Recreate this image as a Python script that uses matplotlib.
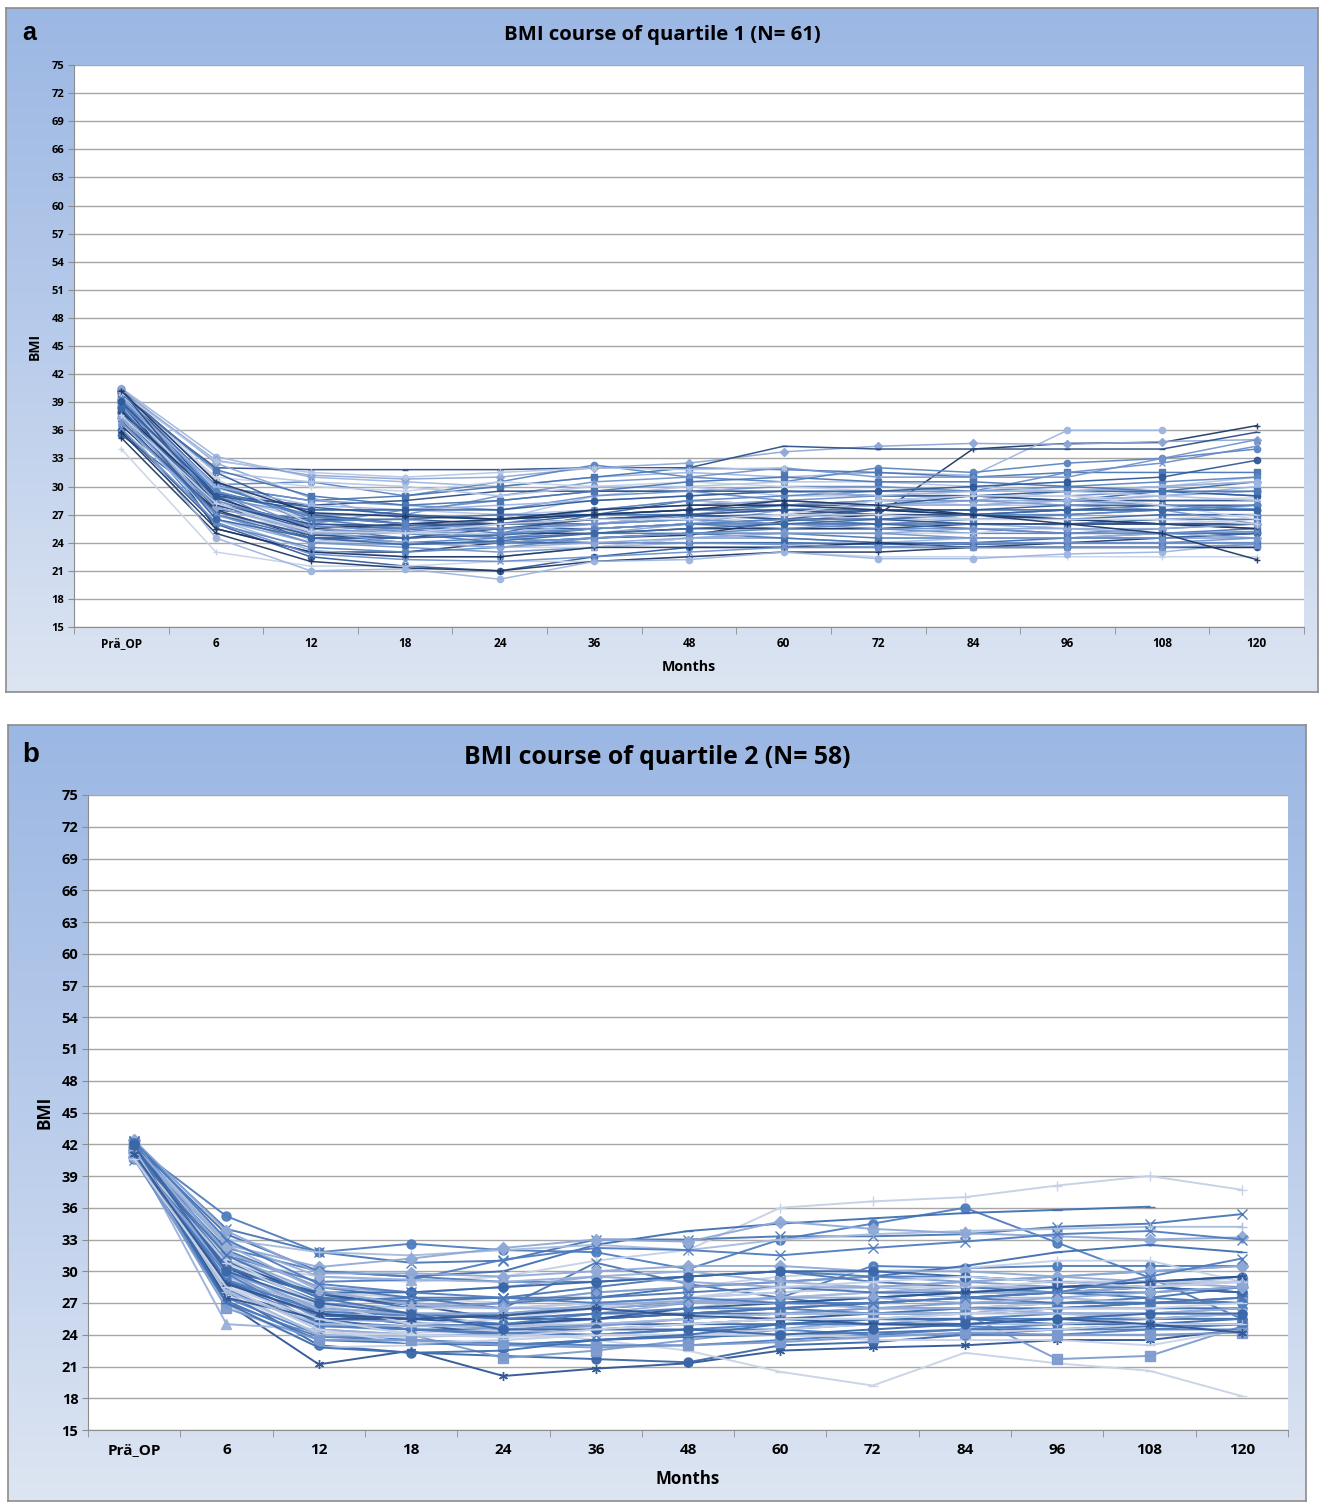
import numpy as np
import matplotlib
matplotlib.use("Agg")
import matplotlib.pyplot as plt
from matplotlib.colors import LinearSegmentedColormap

nan = np.nan

# x categories (months after surgery) and y ticks
months = ["Prä_OP", "6", "12", "18", "24", "36", "48", "60", "72", "84", "96", "108", "120"]
bmi_ticks = list(range(15, 76, 3))

# quartile 1 patients (BMI at each time point)
a01 = [39.8, 25.5, 23.0, 23.0, 24.0, 24.5, 24.8, 26.3, 27.0, 34.0, 34.6, 34.7, 36.5]
a02 = [40.5, 33.2, 31.0, 30.5, 30.0, 31.0, 31.5, 31.0, 31.5, 31.2, 36.0, 36.0, nan]
a03 = [40.2, 32.8, 31.2, 30.8, 31.0, 32.0, 32.5, 33.7, 34.3, 34.6, 34.5, 34.8, 35.0]
a04 = [39.5, 32.0, 31.8, 31.8, 31.8, 32.0, 32.0, 34.3, 34.0, 34.0, 34.0, 34.0, 35.8]
a05 = [38.5, 30.2, 30.5, 29.0, 30.5, 32.3, 31.0, 30.5, 32.0, 31.5, 32.5, 33.0, 34.0]
a06 = [40.0, 30.0, 28.5, 29.0, 30.0, 31.0, 32.0, 31.8, 31.5, 31.0, 31.5, 31.5, 31.5]
a07 = [38.0, 29.5, 27.0, 27.0, 29.0, 30.5, 31.0, 32.0, 31.0, 31.0, 31.0, 33.0, 35.0]
a08 = [36.5, 28.0, 26.0, 27.5, 28.5, 29.5, 29.5, 30.0, 30.0, 29.5, 31.5, 32.5, 34.3]
a09 = [37.5, 29.0, 26.5, 25.5, 26.5, 29.0, 30.0, 29.0, 29.0, 29.5, 29.5, 30.0, 31.0]
a10 = [35.5, 28.0, 25.5, 24.5, 25.0, 27.0, 28.5, 28.0, 28.5, 29.0, 28.5, 29.5, 30.5]
a11 = [36.0, 26.0, 22.5, 21.5, 21.0, 22.5, 23.5, 23.5, 23.5, 23.5, 23.5, 23.5, 23.5]
a12 = [34.0, 23.0, 21.5, 21.5, 22.0, 22.0, 22.5, 23.0, 22.5, 22.5, 22.5, 22.5, 22.5]
a13 = [35.2, 25.0, 22.0, 21.3, 21.0, 22.0, 22.5, 23.0, 23.0, 23.5, 24.0, 24.5, 25.0]
a14 = [37.0, 24.5, 21.0, 21.2, 20.1, 22.0, 22.2, 23.0, 22.3, 22.3, 22.8, 23.0, 24.0]
a15 = [39.0, 26.5, 24.0, 25.5, 24.5, 25.0, 26.0, 27.5, 28.0, 28.5, 29.5, 30.0, 30.5]
a16 = [38.8, 27.5, 26.5, 26.5, 26.0, 26.0, 26.5, 27.0, 27.5, 27.0, 27.5, 28.0, 27.5]
a17 = [39.5, 29.5, 24.5, 24.0, 24.5, 25.5, 26.0, 25.5, 25.5, 25.0, 25.0, 25.5, 26.0]
a18 = [40.3, 30.5, 26.0, 25.0, 24.0, 24.5, 25.0, 25.0, 24.5, 24.5, 24.5, 25.0, 25.5]
a19 = [38.0, 27.0, 24.0, 23.5, 23.0, 23.5, 24.5, 24.5, 24.0, 24.0, 24.0, 24.0, 24.5]
a20 = [37.2, 28.5, 25.0, 25.0, 26.0, 27.5, 28.0, 28.5, 29.0, 29.0, 29.0, 29.5, 29.0]
a21 = [39.0, 29.8, 27.5, 27.5, 27.0, 27.5, 28.5, 28.0, 28.5, 28.0, 28.0, 28.5, 28.5]
a22 = [40.0, 30.0, 26.8, 26.0, 26.0, 26.5, 26.8, 27.0, 27.0, 26.5, 26.5, 27.0, 27.0]
a23 = [38.5, 28.0, 25.8, 25.5, 25.5, 25.5, 26.0, 26.5, 27.5, 27.5, 28.0, 28.0, 28.0]
a24 = [39.8, 31.0, 30.0, 29.5, 30.5, 30.0, 30.5, 30.0, 29.5, 29.0, 29.0, 28.5, 28.8]
a25 = [36.5, 27.5, 24.5, 24.5, 25.0, 25.0, 25.5, 25.5, 25.5, 26.0, 26.0, 26.0, 26.0]
a26 = [37.8, 26.5, 23.2, 22.5, 22.5, 23.5, 24.0, 24.0, 24.0, 24.5, 24.5, 25.0, 25.0]
a27 = [39.2, 27.8, 25.0, 25.5, 26.0, 26.5, 27.0, 27.5, 28.0, 28.5, 28.5, 29.0, 29.5]
a28 = [40.5, 29.0, 28.0, 28.5, 29.5, 29.5, 29.5, 29.5, 29.0, 29.0, 28.5, 28.5, 28.5]
a29 = [37.5, 26.0, 23.5, 23.0, 23.5, 24.5, 25.0, 25.5, 26.0, 26.5, 27.0, 27.5, 28.0]
a30 = [38.2, 28.3, 26.0, 25.5, 24.5, 25.0, 25.0, 24.5, 24.0, 23.8, 24.0, 24.0, 24.0]
a31 = [40.0, 28.8, 27.0, 26.0, 25.5, 26.0, 27.0, 28.0, 28.5, 28.5, 28.0, 27.5, 26.0]
a32 = [39.6, 30.0, 28.5, 28.0, 27.5, 29.0, 29.5, 28.5, 28.0, 28.0, 28.5, 28.0, 27.6]
a33 = [36.8, 26.8, 25.5, 25.0, 25.5, 26.0, 26.5, 27.0, 26.5, 26.5, 26.5, 26.0, 26.5]
a34 = [38.0, 29.0, 25.0, 24.0, 24.0, 24.0, 24.0, 24.0, 23.8, 24.0, 24.5, 24.5, 25.0]
a35 = [40.2, 31.5, 27.0, 26.0, 26.0, 27.0, 27.5, 28.0, 28.0, 29.0, 29.5, 29.5, 29.0]
a36 = [39.0, 28.5, 24.2, 24.0, 23.5, 23.5, 24.5, 25.0, 25.0, 25.0, 26.0, 26.5, 27.0]
a37 = [35.8, 25.5, 23.0, 22.5, 22.5, 23.5, 23.5, 23.5, 24.0, 23.5, 23.5, 23.5, 23.5]
a38 = [38.6, 27.0, 25.0, 24.5, 25.0, 26.0, 27.0, 27.5, 28.0, 28.0, 28.5, 29.0, 30.0]
a39 = [40.4, 32.5, 28.8, 26.5, 25.5, 26.0, 26.5, 26.0, 26.0, 26.0, 25.5, 25.0, 24.5]
a40 = [37.0, 27.3, 24.8, 24.5, 25.5, 26.5, 27.0, 27.5, 27.0, 27.0, 26.5, 26.0, 25.5]
a41 = [39.3, 30.2, 26.5, 25.5, 26.5, 27.5, 28.5, 29.0, 29.5, 29.5, 30.0, 30.5, 31.0]
a42 = [38.3, 28.0, 26.3, 26.5, 27.0, 27.0, 27.0, 26.5, 26.0, 26.0, 26.0, 26.5, 26.5]
a43 = [40.0, 29.5, 25.5, 25.0, 24.5, 24.0, 24.0, 23.8, 23.5, 23.5, 23.5, 23.5, 23.8]
a44 = [36.2, 26.2, 22.8, 22.2, 22.0, 22.5, 23.0, 23.5, 23.5, 24.0, 24.0, 24.0, 24.0]
a45 = [39.7, 31.5, 30.5, 30.0, 29.0, 30.0, 30.0, 30.5, 30.5, 30.0, 29.5, 29.0, 28.5]
a46 = [37.8, 27.0, 24.5, 24.5, 24.8, 25.5, 26.0, 26.0, 26.0, 25.5, 25.0, 25.0, 25.0]
a47 = [38.9, 29.2, 27.8, 27.0, 26.5, 27.0, 27.5, 27.5, 27.5, 27.5, 27.5, 27.5, 27.5]
a48 = [40.1, 30.8, 26.0, 25.0, 25.0, 25.5, 26.0, 27.0, 28.5, 29.0, 29.0, 28.0, 26.5]
a49 = [38.0, 28.8, 25.5, 26.0, 26.5, 27.5, 28.0, 28.0, 27.5, 27.0, 26.5, 26.0, 25.5]
a50 = [39.5, 30.0, 28.0, 27.5, 28.0, 28.5, 29.0, 29.5, 29.0, 29.5, 29.5, 30.0, 30.5]
a51 = [37.3, 27.8, 25.2, 24.0, 23.5, 24.0, 24.5, 25.0, 25.0, 25.5, 25.5, 25.5, 26.0]
a52 = [40.3, 28.0, 26.0, 25.8, 26.0, 26.5, 27.0, 26.5, 26.5, 26.0, 26.0, 26.0, 26.0]
a53 = [38.7, 29.5, 26.8, 26.0, 25.0, 25.5, 26.0, 26.5, 26.5, 27.0, 27.0, 27.5, 28.0]
a54 = [39.9, 31.8, 29.0, 28.0, 28.5, 29.5, 30.5, 31.0, 30.5, 30.5, 30.0, 29.5, 29.5]
a55 = [36.9, 27.0, 24.0, 23.8, 24.0, 24.5, 25.0, 25.0, 25.0, 24.5, 24.5, 24.5, 24.5]
a56 = [39.4, 28.5, 25.8, 25.2, 25.5, 26.0, 26.5, 26.0, 25.5, 25.5, 25.0, 25.0, 25.2]
a57 = [40.0, 32.7, 31.5, 31.0, 31.5, 32.0, 31.8, 32.0, nan, nan, nan, nan, nan]
a58 = [38.4, 26.5, 24.5, 23.8, 24.2, 25.0, 25.5, 26.0, 26.5, 27.0, 27.5, 27.5, 27.5]
a59 = [39.1, 29.0, 27.5, 27.5, 27.5, 28.5, 29.0, 29.5, 29.5, 30.0, 30.5, 31.0, 32.8]
a60 = [37.6, 28.2, 25.2, 25.0, 26.0, 26.5, 26.5, 27.0, 27.0, 26.5, 26.5, 26.5, 26.0]
a61 = [40.2, 30.5, 27.2, 26.8, 26.5, 27.0, 27.5, 28.5, 28.0, 27.0, 26.0, 25.0, 22.2]

# quartile 2 patients
b01 = [41.8, 35.2, 31.8, 32.6, 32.0, 31.8, 30.2, 33.0, 34.5, 36.0, 32.7, 29.4, 25.5]
b02 = [41.0, 31.0, 29.5, 29.0, 29.5, 31.0, 32.0, 36.0, 36.6, 37.0, 38.1, 39.0, 37.7]
b03 = [42.0, 33.5, 30.0, 29.5, 30.0, 32.5, 33.8, 34.5, 35.0, 35.5, 35.8, 36.1, nan]
b04 = [42.2, 34.0, 31.8, 30.8, 31.0, 33.0, 33.0, 33.3, 33.3, 33.5, 34.2, 34.5, 35.4]
b05 = [41.8, 33.0, 31.8, 31.5, 32.0, 32.5, 32.0, 33.0, 33.5, 33.8, 34.0, 34.2, 34.2]
b06 = [41.5, 32.5, 30.4, 31.2, 32.2, 33.0, 32.8, 34.7, 34.0, 33.6, 33.3, 33.0, 33.2]
b07 = [42.3, 31.5, 29.0, 29.2, 31.1, 32.2, 32.0, 31.5, 32.2, 32.8, 33.5, 33.8, 33.0]
b08 = [41.0, 27.0, 21.2, 22.5, 20.1, 20.8, 21.3, 22.5, 22.8, 23.0, 23.5, 23.5, 24.5]
b09 = [41.5, 28.0, 23.0, 22.3, 22.0, 21.7, 21.4, 23.0, 23.3, 24.0, 24.5, 25.0, 25.5]
b10 = [40.8, 29.5, 26.0, 25.0, 24.5, 23.5, 22.5, 20.5, 19.2, 22.3, 21.3, 20.6, 18.2]
b11 = [41.0, 28.5, 24.5, 24.0, 21.8, 22.5, 23.5, 24.5, 25.5, 26.0, 21.7, 22.0, 24.8]
b12 = [41.2, 25.0, 24.5, 24.0, 24.0, 25.0, 25.5, 26.0, 26.5, 26.5, 26.0, 26.0, 26.0]
b13 = [42.0, 29.0, 26.5, 26.0, 26.0, 26.5, 27.0, 27.5, 30.5, 30.3, 30.5, 30.5, 30.5]
b14 = [42.0, 31.0, 28.0, 27.5, 27.0, 28.0, 28.5, 29.5, 30.0, 30.3, 31.0, 31.0, 29.0]
b15 = [41.0, 30.0, 28.0, 26.5, 27.0, 27.5, 28.5, 29.0, 29.5, 30.5, 31.8, 32.5, 31.8]
b16 = [41.5, 32.0, 28.5, 27.5, 26.5, 30.8, 28.8, 27.5, 26.5, 26.5, 27.0, 27.5, 28.5]
b17 = [42.5, 29.2, 26.8, 25.5, 25.0, 25.5, 26.0, 26.5, 27.0, 27.5, 28.0, 28.5, 29.5]
b18 = [41.3, 31.5, 28.0, 27.0, 26.5, 27.0, 27.5, 28.0, 28.5, 29.0, 29.5, 30.0, 30.5]
b19 = [40.8, 27.5, 24.0, 23.5, 23.0, 23.5, 24.0, 24.5, 25.0, 25.5, 26.0, 26.0, 26.5]
b20 = [41.6, 30.5, 26.0, 25.0, 24.0, 24.5, 25.0, 25.5, 26.0, 26.0, 26.5, 27.0, 27.0]
b21 = [42.0, 28.0, 25.5, 24.5, 24.5, 25.0, 25.0, 25.0, 25.5, 25.5, 25.0, 25.0, 25.0]
b22 = [41.0, 26.8, 22.8, 23.0, 23.5, 24.0, 24.5, 24.0, 23.5, 23.5, 23.5, 23.0, 24.5]
b23 = [41.7, 29.8, 27.0, 26.5, 27.0, 28.0, 28.5, 29.0, 29.5, 29.0, 28.5, 29.0, 29.0]
b24 = [41.4, 30.2, 26.2, 26.0, 25.5, 26.0, 27.0, 27.5, 28.0, 28.5, 28.5, 29.0, 29.5]
b25 = [40.9, 32.2, 30.0, 29.5, 29.0, 29.0, 29.5, 30.0, 29.5, 29.5, 29.0, 29.0, 29.5]
b26 = [42.1, 28.8, 25.0, 24.2, 24.5, 25.5, 26.0, 26.5, 26.0, 26.5, 27.0, 27.0, 27.5]
b27 = [41.2, 27.2, 23.5, 23.2, 23.0, 23.5, 23.8, 24.0, 24.2, 24.5, 24.5, 24.8, 25.0]
b28 = [41.9, 31.0, 27.5, 27.2, 27.5, 28.5, 29.5, 30.0, 29.0, 28.5, 28.0, 27.5, 27.0]
b29 = [41.1, 29.5, 26.5, 25.0, 24.8, 25.5, 26.5, 27.5, 28.0, 27.5, 27.5, 27.0, 27.0]
b30 = [42.4, 33.8, 29.8, 29.8, 29.5, 30.0, 30.5, 30.5, 30.0, 30.0, 29.5, 29.0, 28.5]
b31 = [41.6, 28.3, 24.8, 24.5, 24.0, 24.0, 24.5, 24.5, 24.0, 24.5, 25.0, 25.5, 26.0]
b32 = [40.7, 30.8, 27.8, 26.8, 25.5, 25.5, 26.0, 26.5, 27.0, 27.5, 28.0, 28.5, 28.0]
b33 = [41.8, 29.0, 25.8, 25.5, 26.0, 26.5, 27.0, 27.0, 27.5, 28.0, 28.0, 28.0, 28.5]
b34 = [41.3, 27.8, 24.2, 24.0, 23.8, 24.0, 24.0, 24.5, 25.0, 25.0, 25.5, 26.0, 26.0]
b35 = [42.0, 30.0, 25.5, 25.2, 24.5, 24.8, 25.5, 26.0, 26.5, 27.0, 27.0, 27.0, 27.5]
b36 = [41.5, 32.8, 29.5, 29.2, 29.0, 29.5, 30.0, 29.0, 28.5, 28.0, 28.0, 28.5, 29.0]
b37 = [40.6, 27.0, 23.8, 23.5, 23.2, 23.0, 23.0, 23.5, 24.0, 24.0, 24.0, 24.5, 24.5]
b38 = [41.9, 31.2, 26.8, 26.5, 26.5, 27.0, 27.5, 28.0, 28.5, 28.5, 29.0, 29.0, 29.0]
b39 = [41.2, 29.0, 25.2, 24.8, 25.0, 25.5, 26.0, 26.0, 26.0, 26.5, 26.5, 26.5, 26.5]
b40 = [42.2, 30.5, 27.2, 27.5, 27.5, 27.5, 28.0, 28.5, 28.0, 28.0, 28.5, 28.5, 28.0]
b41 = [41.0, 28.2, 24.0, 23.8, 24.0, 24.5, 25.0, 25.5, 25.5, 25.0, 25.0, 25.5, 25.5]
b42 = [41.7, 31.8, 28.5, 28.0, 28.5, 29.5, 29.0, 28.5, 28.5, 29.0, 29.5, 30.0, 30.5]
b43 = [40.5, 29.8, 25.0, 24.5, 24.2, 24.0, 24.5, 25.0, 25.0, 24.8, 24.5, 24.5, 25.0]
b44 = [41.4, 27.5, 25.5, 25.5, 25.0, 25.5, 26.5, 27.0, 27.5, 28.0, 28.5, 29.0, 29.5]
b45 = [42.1, 30.2, 28.0, 28.0, 28.5, 29.0, 29.5, 30.0, 30.0, 29.5, 29.0, 28.5, 28.0]
b46 = [41.3, 28.5, 24.5, 23.2, 23.5, 24.0, 24.0, 24.0, 23.8, 24.2, 24.5, 25.0, 25.0]
b47 = [40.9, 26.5, 23.5, 23.5, 23.0, 22.8, 23.0, 23.3, 23.8, 24.2, 24.0, 24.0, 24.2]
b48 = [41.8, 32.5, 28.2, 26.8, 26.5, 26.5, 27.0, 27.0, 26.5, 26.5, 26.0, 26.0, 26.5]
b49 = [41.6, 29.2, 26.2, 25.8, 25.0, 26.0, 26.5, 26.5, 26.0, 26.0, 26.5, 27.0, 27.0]
b50 = [41.0, 30.8, 27.0, 25.0, 25.5, 26.5, 27.5, 28.5, 29.0, 29.5, 29.0, 28.5, 29.0]
b51 = [42.0, 27.0, 22.8, 22.3, 22.5, 23.5, 24.0, 25.0, 25.5, 25.5, 25.5, 25.5, 25.5]
b52 = [41.2, 31.5, 27.5, 26.0, 25.5, 26.0, 26.0, 26.5, 27.0, 27.5, 27.0, 27.0, 27.5]
b53 = [41.5, 28.0, 25.0, 24.8, 24.8, 25.0, 25.5, 26.0, 26.0, 26.0, 26.0, 25.5, 26.0]
b54 = [40.8, 30.0, 26.5, 26.0, 26.0, 26.8, 27.2, 27.5, 27.5, 27.0, 27.5, 28.0, 28.5]
b55 = [42.3, 33.0, 28.8, 28.0, 27.5, 27.0, 27.5, 27.0, 27.0, 27.5, 28.0, 29.5, 31.2]
b56 = [41.1, 28.8, 26.0, 25.5, 25.8, 26.5, 25.8, 25.5, 25.0, 25.0, 25.5, 25.0, 24.2]
b57 = [41.9, 30.0, 27.0, 26.0, 24.5, 24.5, 24.5, 24.0, 24.5, 25.0, 25.5, 26.0, 26.0]
b58 = [40.6, 28.5, 25.5, 24.0, 23.8, 24.5, 25.0, 25.5, 25.5, 26.0, 26.5, 26.5, 27.0]

quartile1 = [a01, a02, a03, a04, a05, a06, a07, a08, a09, a10, a11, a12, a13, a14, a15,
             a16, a17, a18, a19, a20, a21, a22, a23, a24, a25, a26, a27, a28, a29, a30,
             a31, a32, a33, a34, a35, a36, a37, a38, a39, a40, a41, a42, a43, a44, a45,
             a46, a47, a48, a49, a50, a51, a52, a53, a54, a55, a56, a57, a58, a59, a60, a61]
quartile2 = [b01, b02, b03, b04, b05, b06, b07, b08, b09, b10, b11, b12, b13, b14, b15,
             b16, b17, b18, b19, b20, b21, b22, b23, b24, b25, b26, b27, b28, b29, b30,
             b31, b32, b33, b34, b35, b36, b37, b38, b39, b40, b41, b42, b43, b44, b45,
             b46, b47, b48, b49, b50, b51, b52, b53, b54, b55, b56, b57, b58]

# excel-ish blue shades + marker cycles (one per panel)
colors_a = ['#1F3864', '#9DB5DF', '#8EA8D6', '#2E4F86', '#5A85C2', '#4A76B3',
            '#7494CB', '#6C8ECB', '#B5C5E3', '#3C68A8', '#2F5A9A', '#C8D2E7']
marks_a = ['+', 'o', 'D', '_', 'o', 's', '^', 'x', (6, 2, 0), 'o', 'o', '+']
colors_b = ['#4F7DBE', '#C5D0E6', '#3F6FB0', '#4A76B3', '#A9BCDD', '#8FA9D6',
            '#4F7CC0', '#2F5594', '#3A66A8', '#C9D3E6', '#7D9BCF', '#9AB0D8']
marks_b = ['o', '+', '_', 'x', '+', 'D', 'x', (6, 2, 0), 'o', '_', 's', '^']

W, H = 1319, 1502
plt.rcParams['font.family'] = ['Open Sans', 'DejaVu Sans']
fig = plt.figure(figsize=(W / 100, H / 100), dpi=100)

bg_cmap = LinearSegmentedColormap.from_list('bg', ['#9BB7E3', '#B9CCEB', '#DDE5F2'])


def px(x0, y0, x1, y1):
    # pixel box -> figure fraction rect
    return [x0 / W, 1 - y1 / H, (x1 - x0) / W, (y1 - y0) / H]


def panel(frame, plotbox, series, colors, marks, title, letter, fs):
    bg = fig.add_axes(px(*frame), zorder=0)
    grad = np.linspace(0, 1, 256).reshape(-1, 1)
    bg.imshow(grad, aspect='auto', cmap=bg_cmap, extent=[0, 1, 0, 1])
    bg.set_xticks([])
    bg.set_yticks([])
    for s in bg.spines.values():
        s.set_color('#8C8C8C')
        s.set_linewidth(1.2)

    ax = fig.add_axes(px(*plotbox), zorder=1)
    ax.set_facecolor('white')
    x = np.arange(len(months))
    for i, ys in enumerate(series):
        col = colors[i % len(colors)]
        mk = marks[i % len(marks)]
        ax.plot(x, ys, color=col, lw=fs['lw'], marker=mk, ms=fs['ms'],
                mec=col, mfc=col, mew=1.0, alpha=0.95)

    ax.set_xlim(-0.5, len(months) - 0.5)
    ax.set_ylim(15, 75)
    ax.set_yticks(bmi_ticks)
    ax.set_yticklabels([str(t) for t in bmi_ticks], fontsize=fs['ytick'], fontweight='bold')
    ax.set_xticks(x)
    ax.set_xticklabels(months, fontsize=fs['xtick'], fontweight='bold')
    ax.set_xticks(np.arange(-0.5, len(months)), minor=True)
    ax.tick_params(axis='x', which='major', length=0, pad=fs['xpad'])
    ax.tick_params(axis='x', which='minor', length=5, color='#8C8C8C')
    ax.tick_params(axis='y', length=4, color='#8C8C8C', pad=3)
    ax.yaxis.grid(True, color='#A6A6A6', lw=1.0)
    ax.set_axisbelow(True)
    for side in ['top', 'right']:
        ax.spines[side].set_visible(False)
    for side in ['left', 'bottom']:
        ax.spines[side].set_color('#8C8C8C')
    ax.set_xlabel('Months', fontsize=fs['lab'], fontweight='bold', labelpad=fs['labpad'])
    ax.set_ylabel('BMI', fontsize=fs['ylab'], fontweight='bold', labelpad=fs['ylabpad'])

    cx = (frame[0] + frame[2]) / 2 / W
    fig.text(cx, 1 - fs['ty'] / H, title, ha='center', va='center',
             fontsize=fs['title'], fontweight='bold')
    fig.text(22 / W, 1 - fs['ly'] / H, letter, ha='left', va='center',
             fontsize=fs['letter'], fontweight='bold', family='Liberation Sans')
    return ax


style_a = dict(lw=1.1, ms=4.5, ytick=8, xtick=8.5, xpad=7.5, lab=10.3, labpad=7,
               ylab=10, ylabpad=7, ty=35, title=14.6, ly=33, letter=18)
style_b = dict(lw=1.4, ms=6.5, ytick=10.5, xtick=11, xpad=9.5, lab=12.2, labpad=9.5,
               ylab=12.3, ylabpad=6, ty=757, title=17.8, ly=755, letter=20)

panel((6, 8, 1318, 692), (74, 65, 1304, 627), quartile1, colors_a, marks_a,
      'BMI course of quartile 1 (N= 61)', 'a', style_a)
panel((8, 725, 1306, 1501), (88, 795, 1288, 1430), quartile2, colors_b, marks_b,
      'BMI course of quartile 2 (N= 58)', 'b', style_b)

fig.savefig('out.png', dpi=100)
